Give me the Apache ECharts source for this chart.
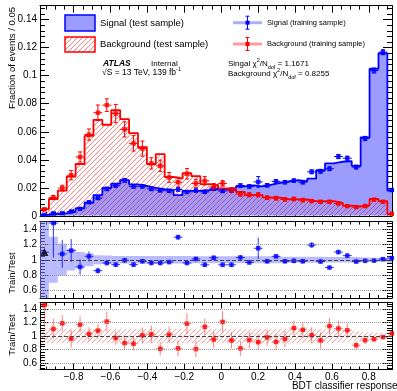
<!DOCTYPE html>
<html>
<head>
<meta charset="utf-8">
<script src="https://cdn.jsdelivr.net/npm/echarts@6/dist/echarts.min.js"></script>
<style>
html, body { margin: 0; padding: 0; background: #fff; }
#chart { width: 397px; height: 391px; }
</style>
</head>
<body>
<div id="chart"></div>
<script>
// x range of the frame and the binning of the BDT response
var xMin = -0.982, xMax = 0.926;
var binLow = -0.982, binWidth = 0.04828;

// main panel: test histograms (fraction of events per bin)
var sigTest = [0.0006, 0.0012, 0.0018, 0.0028, 0.0055, 0.0093, 0.0148, 0.0200, 0.0230, 0.0255,
               0.0224, 0.0214, 0.0200, 0.0190, 0.0183, 0.0147, 0.0178, 0.0178, 0.0183, 0.0188,
               0.0190, 0.0195, 0.0210, 0.0217, 0.0210, 0.0222, 0.0235, 0.0245, 0.0255, 0.0245,
               0.0265, 0.0326, 0.0374, 0.0386, 0.0390, 0.0357, 0.0560, 0.1050, 0.1160, 0.0180];
var bkgTest = [0.0048, 0.0120, 0.0180, 0.0280, 0.0370, 0.0570, 0.0685, 0.0650, 0.0755, 0.0690,
               0.0590, 0.0490, 0.0370, 0.0440, 0.0277, 0.0265, 0.0305, 0.0283, 0.0226, 0.0220,
               0.0195, 0.0195, 0.0170, 0.0148, 0.0148, 0.0131, 0.0130, 0.0117, 0.0117, 0.0117,
               0.0105, 0.0105, 0.0105, 0.0092, 0.0072, 0.0068, 0.0075, 0.0120, 0.0105, 0.0012];

// main panel: training samples (points with errors)
var sigTrain = [0.0007, 0.0018, 0.0019, 0.0031, 0.0050, 0.0097, 0.0127, 0.0192, 0.0215, 0.0253,
                0.0210, 0.0210, 0.0192, 0.0182, 0.0178, 0.0188, 0.0170, 0.0180, 0.0171, 0.0193,
                0.0177, 0.0182, 0.0216, 0.0210, 0.0242, 0.0218, 0.0246, 0.0240, 0.0251, 0.0240,
                0.0314, 0.0318, 0.0336, 0.0423, 0.0411, 0.0348, 0.0552, 0.1037, 0.1168, 0.0184];
var sigTrainErr = [0.0005, 0.0006, 0.0006, 0.0007, 0.0008, 0.0009, 0.0010, 0.0012, 0.0012, 0.0013,
                   0.0012, 0.0012, 0.0012, 0.0011, 0.0011, 0.0012, 0.0011, 0.0011, 0.0011, 0.0012,
                   0.0011, 0.0011, 0.0012, 0.0012, 0.0038, 0.0012, 0.0012, 0.0012, 0.0012, 0.0012,
                   0.0014, 0.0014, 0.0014, 0.0015, 0.0015, 0.0014, 0.0015, 0.0018, 0.0018, 0.0010];
var bkgTrain = [0.0046, 0.0130, 0.0198, 0.0290, 0.0420, 0.0580, 0.0736, 0.0790, 0.0730, 0.0617,
                0.0517, 0.0480, 0.0374, 0.0357, 0.0274, 0.0240, 0.0300, 0.0231, 0.0250, 0.0205,
                0.0231, 0.0183, 0.0155, 0.0150, 0.0150, 0.0129, 0.0126, 0.0117, 0.0120, 0.0112,
                0.0105, 0.0100, 0.0100, 0.0088, 0.0069, 0.0062, 0.0070, 0.0115, 0.0100, 0.0015];
var bkgTrainErr = [0.0010, 0.0015, 0.0020, 0.0033, 0.0036, 0.0040, 0.0055, 0.0045, 0.0065, 0.0054,
                   0.0055, 0.0054, 0.0040, 0.0040, 0.0035, 0.0035, 0.0038, 0.0030, 0.0030, 0.0025,
                   0.0020, 0.0018, 0.0015, 0.0015, 0.0015, 0.0013, 0.0013, 0.0012, 0.0012, 0.0012,
                   0.0010, 0.0010, 0.0010, 0.0010, 0.0009, 0.0009, 0.0009, 0.0010, 0.0010, 0.0006];

// ratio panels: train/test
var sigRatio = [1.10, 1.48, 1.076, 1.12, 0.905, 1.045, 0.857, 0.958, 0.936, 0.993,
                0.936, 0.98, 0.958, 0.958, 0.97, 1.295, 0.958, 1.01, 0.934, 1.026,
                0.934, 0.934, 1.03, 0.965, 1.15, 0.98, 1.045, 0.98, 0.986, 0.98,
                1.192, 0.976, 0.898, 1.10, 1.054, 0.976, 0.986, 0.988, 1.008, 1.022];
var sigRatioErr = [0, 0.45, 0.18, 0.15, 0.10, 0.065, 0.04, 0.035, 0.03, 0.03,
                   0.03, 0.03, 0.03, 0.03, 0.03, 0.035, 0.03, 0.03, 0.03, 0.03,
                   0.03, 0.03, 0.03, 0.03, 0.14, 0.03, 0.03, 0.03, 0.03, 0.03,
                   0.035, 0.03, 0.025, 0.03, 0.03, 0.025, 0.025, 0.02, 0.02, 0.03];
var sigBand = [0.6, 0.3, 0.21, 0.14, 0.10, 0.085, 0.06, 0.055, 0.05, 0.05,
               0.05, 0.05, 0.05, 0.05, 0.05, 0.05, 0.05, 0.045, 0.045, 0.045,
               0.045, 0.045, 0.045, 0.045, 0.045, 0.045, 0.045, 0.04, 0.04, 0.04,
               0.04, 0.04, 0.035, 0.035, 0.035, 0.035, 0.03, 0.025, 0.025, 0.045];
var bkgRatio = [1.46, 1.105, 1.19, 0.96, 1.17, 1.03, 1.08, 1.215, 0.97, 0.895,
                0.885, 1.01, 1.025, 0.81, 1.02, 0.815, 1.185, 0.805, 1.138, 0.948,
                1.21, 0.935, 0.815, 0.94, 0.908, 0.978, 0.912, 0.955, 1.118, 1.092,
                1.012, 0.935, 1.148, 1.112, 1.085, 0.862, 0.937, 0.952, 0.983, 1.038];
var bkgRatioErr = [0.33, 0.15, 0.12, 0.13, 0.12, 0.10, 0.10, 0.15, 0.10, 0.10,
                   0.10, 0.12, 0.13, 0.10, 0.12, 0.12, 0.16, 0.12, 0.12, 0.12,
                   0.16, 0.12, 0.11, 0.12, 0.12, 0.12, 0.12, 0.12, 0.11, 0.12,
                   0.12, 0.12, 0.12, 0.12, 0.10, 0.06, 0.06, 0.04, 0.03, 0.03];
var bkgBand = [0.11, 0.11, 0.11, 0.11, 0.11, 0.11, 0.11, 0.11, 0.11, 0.11,
               0.11, 0.11, 0.11, 0.11, 0.11, 0.11, 0.11, 0.11, 0.11, 0.11,
               0.11, 0.11, 0.11, 0.11, 0.11, 0.11, 0.11, 0.11, 0.11, 0.11,
               0.11, 0.11, 0.11, 0.10, 0.09, 0.07, 0.06, 0.05, 0.04, 0.04];

// tick labels
var xTicks = [-0.8, -0.6, -0.4, -0.2, 0, 0.2, 0.4, 0.6, 0.8];
var mainYTicks = [0, 0.02, 0.04, 0.06, 0.08, 0.1, 0.12, 0.14];
var ratioYTicks = [0.6, 0.8, 1, 1.2, 1.4];

var FONT = '"Liberation Sans", Arial, sans-serif';

function steps(a, b, d) {
    var r = [];
    for (var v = a; v <= b + 1e-9; v += d) r.push(+v.toFixed(4));
    return r;
}
var xMinor = steps(-0.95, 0.9, 0.05);
var mainYMinor = steps(0, 0.148, 0.004);
var ratioYMinor = steps(0.52, 1.48, 0.04);

function lo(i) { return binLow + i * binWidth; }
function mid(i) { return binLow + (i + 0.5) * binWidth; }

function stepLine(vals) {
    var d = [];
    for (var i = 0; i < vals.length; i++) d.push([lo(i), vals[i]]);
    d.push([lo(vals.length), vals[vals.length - 1]]);
    return d;
}
function points(vals, errs) {
    return vals.map(function (v, i) { return [mid(i), v, errs[i]]; });
}
function bands(errs) {
    return errs.map(function (e, i) { return [lo(i), lo(i + 1), 1, e]; });
}

// diagonal hatch like ROOT fill style 3004
function hatch(color) {
    var n = 5;
    var c = document.createElement('canvas');
    c.width = n; c.height = n;
    var ctx = c.getContext('2d');
    ctx.strokeStyle = color;
    ctx.lineWidth = 1;
    ctx.beginPath();
    ctx.moveTo(0, n); ctx.lineTo(n, 0);
    ctx.moveTo(-1, 1); ctx.lineTo(1, -1);
    ctx.moveTo(n - 1, n + 1); ctx.lineTo(n + 1, n - 1);
    ctx.stroke();
    return {image: c, repeat: 'repeat'};
}
var redHatch = hatch('rgba(255,0,0,0.5)');
var bandHatch = hatch('rgba(255,40,40,0.45)');

function errRender(color, cap) {
    return function (params, api) {
        var x = api.value(0), y = api.value(1), e = api.value(2);
        var c = api.coord([x, y]);
        var l = api.coord([x - binWidth / 2, y]);
        var r = api.coord([x + binWidth / 2, y]);
        var t = api.coord([x, y + e]);
        var b = api.coord([x, y - e]);
        var st = {stroke: color, lineWidth: 1};
        var kids = [
            {type: 'line', shape: {x1: l[0], y1: c[1], x2: r[0], y2: c[1]}, style: st},
            {type: 'line', shape: {x1: c[0], y1: t[1], x2: c[0], y2: b[1]}, style: st}
        ];
        if (cap && e > 0) {
            kids.push({type: 'line', shape: {x1: c[0] - 2, y1: t[1], x2: c[0] + 2, y2: t[1]}, style: st});
            kids.push({type: 'line', shape: {x1: c[0] - 2, y1: b[1], x2: c[0] + 2, y2: b[1]}, style: st});
        }
        return {type: 'group', children: kids};
    };
}
function bandRender(fill) {
    return function (params, api) {
        var p1 = api.coord([api.value(0), api.value(2) + api.value(3)]);
        var p2 = api.coord([api.value(1), api.value(2) - api.value(3)]);
        return {type: 'rect', shape: {x: p1[0], y: p1[1], width: p2[0] - p1[0], height: p2[1] - p1[1]},
                style: {fill: fill}};
    };
}

var tickStyle = {color: '#000', width: 1};

function xAxes(g, showLabels, major, minor) {
    var res = [];
    ['bottom', 'top'].forEach(function (pos) {
        res.push({
            gridIndex: g, type: 'value', min: xMin, max: xMax, position: pos,
            axisLine: {show: true, onZero: false, lineStyle: tickStyle},
            axisTick: {show: true, inside: true, length: major, customValues: xTicks, lineStyle: tickStyle},
            axisLabel: (showLabels && pos === 'bottom') ? {
                show: true, customValues: xTicks, margin: 3, color: '#000', fontSize: 10, fontFamily: FONT,
                formatter: function (v) { return String(v).replace('-', '\u2212'); }
            } : {show: false},
            splitLine: {show: false}
        });
        res.push({
            gridIndex: g, type: 'value', min: xMin, max: xMax, position: pos,
            axisLine: {show: false, onZero: false},
            axisTick: {show: true, inside: true, length: minor, customValues: xMinor, lineStyle: tickStyle},
            axisLabel: {show: false}, splitLine: {show: false}
        });
    });
    return res;
}
function yAxes(g, min, max, majorVals, minorVals) {
    var res = [];
    ['left', 'right'].forEach(function (pos) {
        res.push({
            gridIndex: g, type: 'value', min: min, max: max, position: pos,
            axisLine: {show: true, onZero: false, lineStyle: tickStyle},
            axisTick: {show: true, inside: true, length: 9, customValues: majorVals, lineStyle: tickStyle},
            axisLabel: pos === 'left' ? {
                show: true, customValues: majorVals, margin: 3, color: '#000', fontSize: 10, fontFamily: FONT
            } : {show: false},
            splitLine: {show: false}
        });
        res.push({
            gridIndex: g, type: 'value', min: min, max: max, position: pos,
            axisLine: {show: false, onZero: false},
            axisTick: {show: true, inside: true, length: 5, customValues: minorVals, lineStyle: tickStyle},
            axisLabel: {show: false}, splitLine: {show: false}
        });
    });
    return res;
}

var ratioLines = {
    silent: true, symbol: 'none', label: {show: false},
    lineStyle: {color: '#9a9a9a', type: 'dotted', width: 1},
    data: [{yAxis: 1.4}, {yAxis: 1.2}, {yAxis: 0.8}, {yAxis: 0.6},
           {yAxis: 1, lineStyle: {color: '#444', type: 'dashed', width: 1}}]
};

var sigRatioPts = points(sigRatio, sigRatioErr);
var sigRatioMarks = sigRatioPts.map(function (p, i) {
    if (i === 0) return {value: p, symbol: 'triangle', symbolSize: 8, itemStyle: {color: '#000'}};
    return {value: p};
});

function legendText(x, y, txt, size) {
    return {type: 'text', x: x, y: y, style: {text: txt, fontSize: size, fontFamily: FONT, fill: '#000',
            align: 'left', verticalAlign: 'middle'}};
}
function legendPoint(y, light, dark) {
    return [
        {type: 'line', shape: {x1: 233, y1: y, x2: 262, y2: y}, style: {stroke: light, lineWidth: 3}},
        {type: 'line', shape: {x1: 247.5, y1: y - 6.5, x2: 247.5, y2: y + 6.5}, style: {stroke: dark, lineWidth: 1}},
        {type: 'line', shape: {x1: 245.5, y1: y - 6.5, x2: 249.5, y2: y - 6.5}, style: {stroke: dark, lineWidth: 1}},
        {type: 'line', shape: {x1: 245.5, y1: y + 6.5, x2: 249.5, y2: y + 6.5}, style: {stroke: dark, lineWidth: 1}},
        {type: 'rect', shape: {x: 245.5, y: y - 2, width: 4, height: 4}, style: {fill: dark}}
    ];
}
var richSub = {
    sup: {fontSize: 5.5, fontFamily: FONT, lineHeight: 7, verticalAlign: 'top'},
    sub: {fontSize: 5.5, fontFamily: FONT, lineHeight: 7, verticalAlign: 'bottom'}
};
function richText(x, y, txt, size) {
    return {type: 'text', x: x, y: y, style: {text: txt, fontSize: size, fontFamily: FONT, fill: '#000',
            lineHeight: 13, align: 'left', verticalAlign: 'middle', rich: richSub}};
}

var graphics = [
    {type: 'rect', shape: {x: 65, y: 15, width: 30, height: 16}, style: {fill: '#9c9cff', stroke: '#0000ff', lineWidth: 1.5}},
    {type: 'rect', shape: {x: 65, y: 37, width: 30, height: 15}, style: {fill: redHatch, stroke: '#ff0000', lineWidth: 1.5}},
    legendText(100, 23, 'Signal (test sample)', 9.5),
    legendText(100, 44.5, 'Background (test sample)', 9.5),
    legendText(267, 22.7, 'Signal (training sample)', 7.5),
    legendText(267, 44, 'Background (training sample)', 7.5),
    {type: 'text', x: 103, y: 63.5, style: {text: 'ATLAS', fontSize: 8.5, fontWeight: 'bold', fontStyle: 'italic',
        fontFamily: FONT, fill: '#000', align: 'left', verticalAlign: 'middle'}},
    legendText(151, 63.5, 'Internal', 8),
    richText(102, 72.5, '\u221AS = 13 TeV, 139 fb{sup|-1}', 8.5),
    richText(228, 63.5, 'Singal \u03C7{sup|2}/N{sub|dof} = 1.1671', 8),
    richText(228, 74, 'Background \u03C7{sup|2}/N{sub|dof} = 0.8255', 8),
    {type: 'text', x: 12, y: 7, rotation: Math.PI / 2, style: {text: 'Fraction of events / 0.05', fontSize: 9.5,
        fontFamily: FONT, fill: '#000', align: 'right', verticalAlign: 'middle'}},
    {type: 'text', x: 12, y: 273, rotation: Math.PI / 2, style: {text: 'Train/Test', fontSize: 9.5,
        fontFamily: FONT, fill: '#000', align: 'center', verticalAlign: 'middle'}},
    {type: 'text', x: 12, y: 335, rotation: Math.PI / 2, style: {text: 'Train/Test', fontSize: 9.5,
        fontFamily: FONT, fill: '#000', align: 'center', verticalAlign: 'middle'}},
    {type: 'text', x: 397.5, y: 386.5, style: {text: 'BDT classifier response', fontSize: 10,
        fontFamily: FONT, fill: '#000', align: 'right', verticalAlign: 'middle'}}
].concat(legendPoint(22.7, 'rgba(110,110,255,0.55)', '#0000ff'))
 .concat(legendPoint(44, 'rgba(255,90,90,0.6)', '#ff0000'));

var option = {
    animation: false,
    backgroundColor: '#fff',
    grid: [
        {left: 40, top: 5.7, width: 352, height: 210.1},
        {left: 40, top: 221.5, width: 352, height: 76.5},
        {left: 40, top: 302.5, width: 352, height: 67}
    ],
    xAxis: [].concat(xAxes(0, false, 7, 4), xAxes(1, false, 5, 3), xAxes(2, true, 6, 3)),
    yAxis: [].concat(yAxes(0, 0, 0.15, mainYTicks, mainYMinor),
                     yAxes(1, 0.5, 1.5, ratioYTicks, ratioYMinor),
                     yAxes(2, 0.5, 1.5, ratioYTicks, ratioYMinor)),
    graphic: graphics,
    series: [
        // main panel
        {type: 'line', xAxisIndex: 0, yAxisIndex: 0, step: 'end', data: stepLine(sigTest), showSymbol: false,
         lineStyle: {width: 0}, areaStyle: {color: '#9c9cff', opacity: 1}, z: 1, silent: true},
        {type: 'line', xAxisIndex: 0, yAxisIndex: 0, step: 'end', data: stepLine(bkgTest), showSymbol: false,
         lineStyle: {width: 0}, areaStyle: {color: redHatch, opacity: 1}, z: 2, silent: true},
        {type: 'line', xAxisIndex: 0, yAxisIndex: 0, step: 'end', data: stepLine(sigTest), showSymbol: false,
         lineStyle: {width: 1.8, color: '#0000ff'}, z: 3, silent: true},
        {type: 'line', xAxisIndex: 0, yAxisIndex: 0, step: 'end', data: stepLine(bkgTest), showSymbol: false,
         lineStyle: {width: 1.8, color: '#ff0000'}, z: 4, silent: true},
        {type: 'custom', xAxisIndex: 0, yAxisIndex: 0, clip: true, data: points(sigTrain, sigTrainErr),
         renderItem: errRender('#0000ff', true), z: 5, silent: true},
        {type: 'custom', xAxisIndex: 0, yAxisIndex: 0, clip: true, data: points(bkgTrain, bkgTrainErr),
         renderItem: errRender('#ff0000', true), z: 5, silent: true},
        {type: 'scatter', xAxisIndex: 0, yAxisIndex: 0, data: points(sigTrain, sigTrainErr), symbol: 'rect',
         symbolSize: 4.5, itemStyle: {color: '#0000ff'}, z: 6, silent: true},
        {type: 'scatter', xAxisIndex: 0, yAxisIndex: 0, data: points(bkgTrain, bkgTrainErr), symbol: 'rect',
         symbolSize: 4.5, itemStyle: {color: '#ff0000'}, z: 6, silent: true},

        // signal ratio panel
        {type: 'custom', xAxisIndex: 4, yAxisIndex: 4, clip: true, data: bands(sigBand),
         renderItem: bandRender('rgba(130,130,255,0.55)'), z: 1, silent: true},
        {type: 'custom', xAxisIndex: 4, yAxisIndex: 4, clip: true, data: sigRatioPts,
         renderItem: errRender('rgba(0,0,255,0.8)', false), z: 3, silent: true},
        {type: 'scatter', xAxisIndex: 4, yAxisIndex: 4, data: sigRatioMarks, symbol: 'rect', symbolSize: 4.5,
         itemStyle: {color: '#0000ff'}, markLine: ratioLines, z: 4, silent: true},

        // background ratio panel
        {type: 'custom', xAxisIndex: 8, yAxisIndex: 8, clip: true, data: bands(bkgBand),
         renderItem: bandRender(bandHatch), z: 1, silent: true},
        {type: 'custom', xAxisIndex: 8, yAxisIndex: 8, clip: true, data: points(bkgRatio, bkgRatioErr),
         renderItem: errRender('rgba(255,0,0,0.5)', false), z: 3, silent: true},
        {type: 'scatter', xAxisIndex: 8, yAxisIndex: 8, data: points(bkgRatio, bkgRatioErr), symbol: 'rect',
         symbolSize: 4.5, itemStyle: {color: '#ff0000'}, markLine: ratioLines, z: 4, silent: true}
    ]
};

var chart = echarts.init(document.getElementById('chart'));
chart.setOption(option);
</script>
</body>
</html>
